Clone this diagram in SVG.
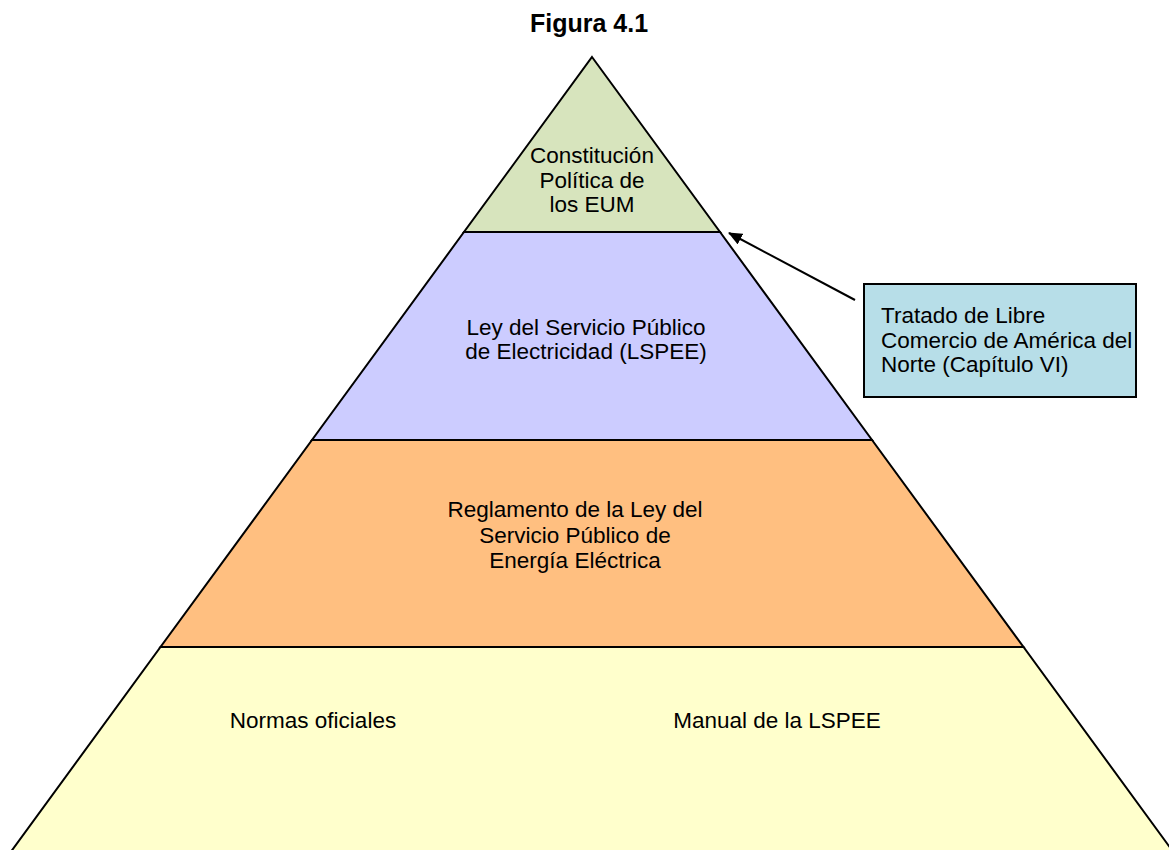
<svg xmlns="http://www.w3.org/2000/svg" width="1169" height="850" viewBox="0 0 1169 850">
  <style>
    .lbl { font-family: "Liberation Sans", Arial, sans-serif; font-size: 22.5px; fill: #000; }
    .mid { text-anchor: middle; }
    .title { font-family: "Liberation Sans", Arial, sans-serif; font-size: 25px; font-weight: bold; text-anchor: middle; fill: #000; }
    .tier { stroke: #000; stroke-width: 2; stroke-linejoin: miter; }
    .conn { stroke: #000; stroke-width: 2; fill: none; }
  </style>
  <defs>
    <marker id="arrowHead" viewBox="0 0 14 12" refX="13" refY="6" markerWidth="14" markerHeight="12" markerUnits="userSpaceOnUse" orient="auto">
      <path d="M0,0 L14,6 L0,12 Z" fill="#000"/>
    </marker>
  </defs>
  <rect width="1169" height="850" fill="#fff"/>

  <text class="title" x="589" y="32">Figura 4.1</text>

  <g id="constitucion">
    <polygon class="tier" points="592,57 720,232 464,232" fill="#D7E4BD"/>
    <text class="lbl mid" x="592" y="163">Constitución</text>
    <text class="lbl mid" x="592" y="187.5">Política de</text>
    <text class="lbl mid" x="592" y="212">los EUM</text>
  </g>

  <g id="lspee">
    <polygon class="tier" points="464,232 720,232 872,440 312,440" fill="#CCCCFF"/>
    <text class="lbl mid" x="586" y="335">Ley del Servicio Público</text>
    <text class="lbl mid" x="586" y="359">de Electricidad (LSPEE)</text>
  </g>

  <g id="reglamento">
    <polygon class="tier" points="312,440 872,440 1023.5,647 160.5,647" fill="#FFBF80"/>
    <text class="lbl mid" x="575" y="517">Reglamento de la Ley del</text>
    <text class="lbl mid" x="575" y="542.5">Servicio Público de</text>
    <text class="lbl mid" x="575" y="568">Energía Eléctrica</text>
  </g>

  <!-- base tier runs past the bottom edge of the canvas -->
  <g id="normas">
    <polygon class="tier" points="160.5,647 1023.5,647 1174,853 10,853" fill="#FFFFCC"/>
    <text class="lbl mid" x="313" y="728">Normas oficiales</text>
    <text class="lbl mid" x="777" y="728">Manual de la LSPEE</text>
  </g>

  <g id="tlcan">
    <rect x="864" y="284" width="272" height="113" fill="#B7DEE8" stroke="#000" stroke-width="2"/>
    <text class="lbl" x="881" y="323">Tratado de Libre</text>
    <text class="lbl" x="881" y="347.5">Comercio de América del</text>
    <text class="lbl" x="881" y="372">Norte (Capítulo VI)</text>
  </g>

  <g id="connectors">
    <line class="conn" x1="855" y1="300" x2="729" y2="233" marker-end="url(#arrowHead)"/>
  </g>
</svg>
